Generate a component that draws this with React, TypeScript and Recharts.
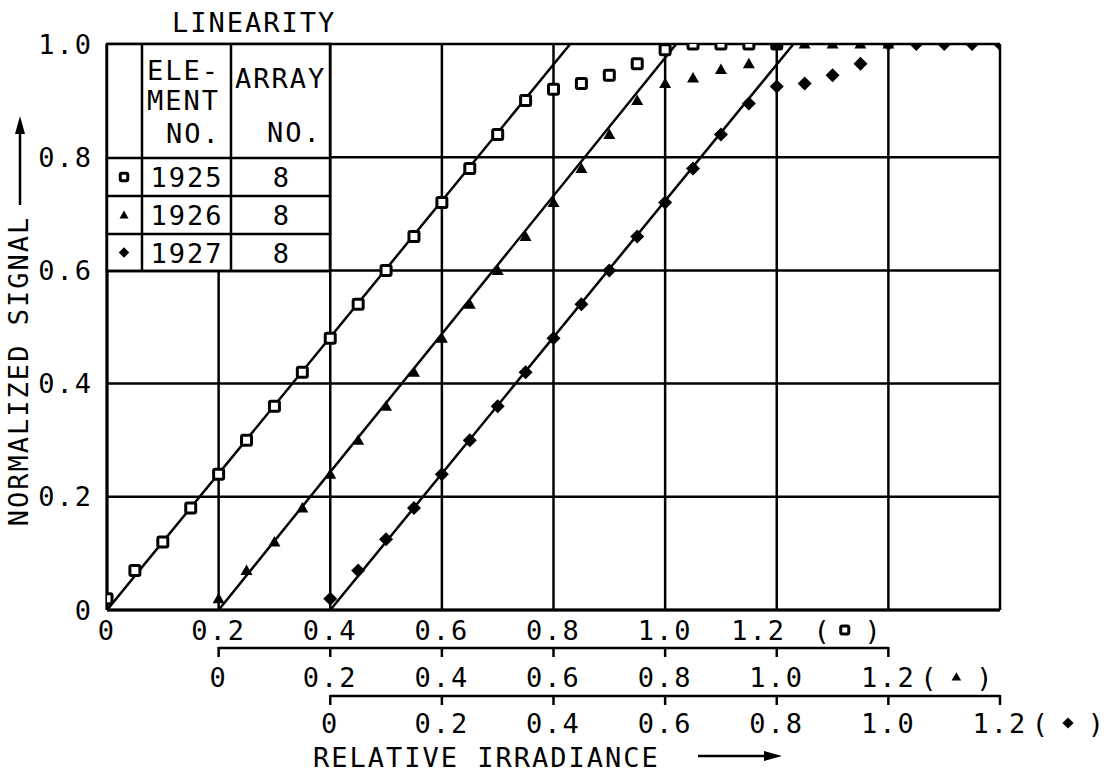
import React from "react";
import { CartesianGrid, ComposedChart, Line, Scatter, XAxis, YAxis } from "recharts";

const FONT = '"DejaVu Sans Mono", monospace';
const FS = 27;
const LS = 2;

// relative irradiance, each element on its own scale
const relIrradiance = [
  0, 0.05, 0.1, 0.15, 0.2, 0.25, 0.3, 0.35, 0.4, 0.45, 0.5, 0.55, 0.6, 0.65, 0.7, 0.75, 0.8, 0.85,
  0.9, 0.95, 1.0, 1.05, 1.1, 1.15, 1.2,
];
const signal1925 = [
  0.02, 0.07, 0.12, 0.18, 0.24, 0.3, 0.36, 0.42, 0.48, 0.54, 0.6, 0.66, 0.72, 0.78, 0.84, 0.9, 0.92,
  0.93, 0.945, 0.965, 0.99, 1, 1, 1, 1,
];
const signal1926 = [
  0.02, 0.07, 0.12, 0.18, 0.24, 0.3, 0.36, 0.42, 0.48, 0.54, 0.6, 0.66, 0.72, 0.78, 0.84, 0.9, 0.93,
  0.94, 0.955, 0.965, 1, 1, 1, 1, 1,
];
const signal1927 = [
  0.02, 0.07, 0.125, 0.18, 0.24, 0.3, 0.36, 0.42, 0.48, 0.54, 0.6, 0.66, 0.72, 0.78, 0.84, 0.895,
  0.925, 0.93, 0.945, 0.965, 1, 1, 1, 1, 1,
];

// fitted straight lines, start and end on own scale
const fitX1925 = [0, 0.83];
const fitX1926 = [0, 0.82];
const fitX1927 = [0, 0.83];
const fitY = [0, 1];

const mainTicks = [0, 0.2, 0.4, 0.6, 0.8, 1.0, 1.2, 1.4, 1.6];
const subTicks = [0, 0.2, 0.4, 0.6, 0.8, 1.0, 1.2];
const yTicks = [0, 0.2, 0.4, 0.6, 0.8, 1.0];

const legendRows = [
  { element: "1925", array: "8", mark: "sq" },
  { element: "1926", array: "8", mark: "tri" },
  { element: "1927", array: "8", mark: "dia" },
];

const toPoints = (xs: number[], ys: number[]) => xs.map((x, i) => ({ x, y: ys[i] }));

const W = 1115;
const H = 774;
const LEFT = 107;
const RIGHT = 1000;
const TOP = 44;
const STEP = ((RIGHT - LEFT) * 0.2) / 1.6;

// axis ids sort in this order, nearest the plot first
const AX_MAIN = "a_main";
const AX_TRI = "b_tri";
const AX_DIA = "c_dia";

function Mark({ kind, cx, cy, s = 1 }: { kind: string; cx: number; cy: number; s?: number }) {
  if (kind === "sq") {
    const h = 5 * s;
    return <rect x={cx - h} y={cy - h} width={2 * h} height={2 * h} fill="#fff" stroke="#000" strokeWidth={3} rx={1.5} />;
  }
  if (kind === "tri") {
    const h = 6 * s;
    return <polygon points={`${cx},${cy - h} ${cx + h},${cy + h * 0.75} ${cx - h},${cy + h * 0.75}`} fill="#000" />;
  }
  const h = 7 * s;
  return <polygon points={`${cx},${cy - h} ${cx + h},${cy} ${cx},${cy + h} ${cx - h},${cy}`} fill="#000" />;
}

const fmt = (v: number) => (v === 0 ? "0" : v.toFixed(1));

function MainTick(props: any) {
  const { x, y, payload } = props;
  const v = payload.value as number;
  if (v > 1.2 + 1e-9) return <g />;
  if (Math.abs(v - 1.2) < 1e-9) {
    return (
      <g>
        <text x={x - 18} y={y + 30} textAnchor="middle" fontFamily={FONT} fontSize={FS} letterSpacing={LS} fill="#000">
          {fmt(v)}
        </text>
        <text x={x + 45} y={y + 30} textAnchor="middle" fontFamily={FONT} fontSize={FS} fill="#000">(</text>
        <Mark kind="sq" cx={x + 68} cy={y + 20} s={0.8} />
        <text x={x + 96} y={y + 30} textAnchor="middle" fontFamily={FONT} fontSize={FS} fill="#000">)</text>
      </g>
    );
  }
  return (
    <text x={x} y={y + 30} textAnchor="middle" fontFamily={FONT} fontSize={FS} letterSpacing={LS} fill="#000">
      {fmt(v)}
    </text>
  );
}

function SubTick(props: any) {
  const { x, y, payload, mark, base } = props;
  const v = payload.value as number;
  const last = Math.abs(v - subTicks[subTicks.length - 1]) < 1e-9;
  const ty = y + base;
  return (
    <g>
      {!last && <line x1={x} y1={y} x2={x + STEP} y2={y} stroke="#000" strokeWidth={2.5} />}
      <line x1={x} y1={y - 1} x2={x} y2={y + 9} stroke="#000" strokeWidth={2.5} />
      <text x={x} y={ty} textAnchor="middle" fontFamily={FONT} fontSize={FS} letterSpacing={LS} fill="#000">
        {fmt(v)}
      </text>
      {last && (
        <g>
          <text x={x + 40} y={ty} textAnchor="middle" fontFamily={FONT} fontSize={FS} fill="#000">(</text>
          <Mark kind={mark} cx={x + 68} cy={ty - 10} s={0.8} />
          <text x={x + 96} y={ty} textAnchor="middle" fontFamily={FONT} fontSize={FS} fill="#000">)</text>
        </g>
      )}
    </g>
  );
}

function Overlay() {
  const tL = LEFT;
  const tR = 330;
  const tT = TOP;
  const tB = 271;
  const c1 = 142;
  const c2 = 231;
  const rows = [158, 196, 234, 271];
  const txt = { fontFamily: FONT, fontSize: FS, letterSpacing: LS, fill: "#000" };
  return (
    <svg width={W} height={H} style={{ position: "absolute", left: 0, top: 0, pointerEvents: "none" }}>
      <text x={172} y={32} {...txt}>LINEARITY</text>
      <text transform="translate(28, 371) rotate(-90)" textAnchor="middle" {...txt}>
        NORMALIZED SIGNAL
      </text>
      <line x1={20} y1={205} x2={20} y2={130} stroke="#000" strokeWidth={2.5} />
      <polygon points="20,116 15,134 25,134" fill="#000" />
      <text x={313} y={767} {...txt}>RELATIVE IRRADIANCE</text>
      <line x1={698} y1={756} x2={766} y2={756} stroke="#000" strokeWidth={2.5} />
      <polygon points="782,756 764,751 764,761" fill="#000" />

      <rect x={tL} y={tT} width={tR - tL} height={tB - tT} fill="#fff" stroke="#000" strokeWidth={2.5} />
      <line x1={c1} y1={tT} x2={c1} y2={tB} stroke="#000" strokeWidth={2.5} />
      <line x1={c2} y1={tT} x2={c2} y2={tB} stroke="#000" strokeWidth={2.5} />
      {rows.map((r) => (
        <line key={r} x1={tL} y1={r} x2={tR} y2={r} stroke="#000" strokeWidth={2.5} />
      ))}
      <text x={147} y={80} {...txt}>ELE-</text>
      <text x={147} y={110} {...txt}>MENT</text>
      <text x={166} y={143} {...txt}>NO.</text>
      <text x={235} y={88} {...txt}>ARRAY</text>
      <text x={267} y={142} {...txt}>NO.</text>
      {legendRows.map((r, i) => {
        const top = rows[i];
        const bot = rows[i + 1];
        const mid = (top + bot) / 2;
        return (
          <g key={r.element}>
            <Mark kind={r.mark} cx={124} cy={mid} s={0.75} />
            <text x={187} y={mid + 10} textAnchor="middle" {...txt}>{r.element}</text>
            <text x={282} y={mid + 10} textAnchor="middle" {...txt}>{r.array}</text>
          </g>
        );
      })}
    </svg>
  );
}

export default function App() {
  const d1925 = toPoints(relIrradiance, signal1925);
  const d1926 = toPoints(relIrradiance, signal1926);
  const d1927 = toPoints(relIrradiance, signal1927);
  const lineProps = { dataKey: "y", stroke: "#000", strokeWidth: 2.5, dot: false, isAnimationActive: false } as const;
  return (
    <div style={{ position: "relative", width: W, height: H, background: "#fff" }}>
      <style>{"body{margin:0;background:#fff}"}</style>
      <ComposedChart width={W} height={H} margin={{ top: TOP, right: W - RIGHT, bottom: 38, left: 0 }}>
        <CartesianGrid xAxisId={AX_MAIN} stroke="#000" strokeWidth={2.5} fill="none" />
        <XAxis
          xAxisId={AX_MAIN}
          dataKey="x"
          type="number"
          domain={[0, 1.6]}
          allowDataOverflow
          ticks={mainTicks}
          interval={0}
          height={38}
          tickSize={0}
          tickMargin={0}
          tickLine={false}
          axisLine={{ stroke: "#000", strokeWidth: 3 }}
          tick={(p: any) => <MainTick {...p} />}
        />
        <XAxis
          xAxisId={AX_TRI}
          dataKey="x"
          type="number"
          domain={[-0.2, 1.4]}
          allowDataOverflow
          ticks={subTicks}
          interval={0}
          height={48}
          tickSize={0}
          tickMargin={0}
          tickLine={false}
          axisLine={false}
          tick={(p: any) => <SubTick {...p} mark="tri" base={39} />}
        />
        <XAxis
          xAxisId={AX_DIA}
          dataKey="x"
          type="number"
          domain={[-0.4, 1.2]}
          allowDataOverflow
          ticks={subTicks}
          interval={0}
          height={40}
          tickSize={0}
          tickMargin={0}
          tickLine={false}
          axisLine={false}
          tick={(p: any) => <SubTick {...p} mark="dia" base={37} />}
        />
        <YAxis
          dataKey="y"
          type="number"
          domain={[0, 1]}
          allowDataOverflow
          ticks={yTicks}
          interval={0}
          width={LEFT}
          tickSize={0}
          tickMargin={14}
          tickLine={false}
          axisLine={{ stroke: "#000", strokeWidth: 3 }}
          tickFormatter={fmt}
          tick={{ fill: "#000", fontFamily: FONT, fontSize: FS, letterSpacing: LS }}
        />
        <Line xAxisId={AX_MAIN} data={toPoints(fitX1925, fitY)} {...lineProps} />
        <Line xAxisId={AX_TRI} data={toPoints(fitX1926, fitY)} {...lineProps} />
        <Line xAxisId={AX_DIA} data={toPoints(fitX1927, fitY)} {...lineProps} />
        <Scatter xAxisId={AX_MAIN} data={d1925} dataKey="y" isAnimationActive={false} shape={(p: any) => <Mark kind="sq" cx={p.cx} cy={p.cy} />} />
        <Scatter xAxisId={AX_TRI} data={d1926} dataKey="y" isAnimationActive={false} shape={(p: any) => <Mark kind="tri" cx={p.cx} cy={p.cy} />} />
        <Scatter xAxisId={AX_DIA} data={d1927} dataKey="y" isAnimationActive={false} shape={(p: any) => <Mark kind="dia" cx={p.cx} cy={p.cy} />} />
      </ComposedChart>
      <Overlay />
    </div>
  );
}
